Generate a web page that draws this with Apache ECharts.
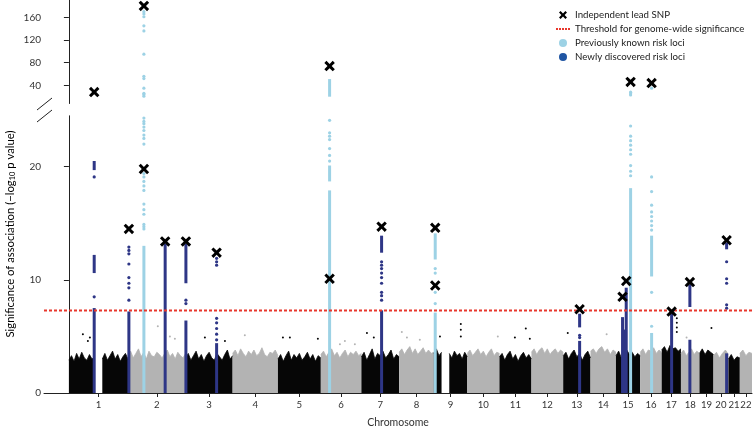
<!DOCTYPE html>
<html><head><meta charset="utf-8">
<script src="https://cdn.jsdelivr.net/npm/echarts@6/dist/echarts.min.js"></script>
<style>html,body{margin:0;padding:0;background:#fff}#c{width:756px;height:433px}</style>
</head><body><div id="c"></div>
<script>
// ---------- DATA ----------
const chrNames = ['1','2','3','4','5','6','7','8','9','10','11','12','13','14','15','16','17','18','19','20','21','22'];
const chrLengths = [249.25,243.2,198.0,191.15,180.9,171.1,159.1,146.4,141.2,135.5,135.0,133.9,115.2,107.3,102.5,90.4,81.2,78.1,59.1,63.0,48.1,51.3]; // Mb

// upper envelope of the bulk of non-significant SNPs, per chromosome (null = no SNPs, centromere gap)
const noiseHeights = [
  [2.9,3.3,2.8,3.5,3.0,3.6,3.1,2.9,3.4,3.0,3.2,null,null,3.0,3.5,2.9,3.3,3.7,3.0,3.4,2.8,3.2,3.5,3.0],
  [3.3,3.7,3.1,3.5,3.9,3.2,3.6,3.0,3.7,3.3,3.2,3.6,3.4,3.1,3.5,3.8,3.2,3.5,3.0,3.6,3.3,3.1,3.5],
  [3.1,3.5,2.9,3.3,3.7,3.0,3.4,2.8,3.3,3.6,3.1,2.9,3.5,3.2,2.9,3.4,3.8,3.0,3.3],
  [3.5,3.8,3.3,3.9,3.5,3.2,3.7,3.4,3.8,3.3,3.5,4.0,3.4,3.2,3.6,3.5,3.8,3.3],
  [3.0,3.4,2.8,3.3,3.7,2.9,3.4,3.1,3.5,2.9,3.2,3.6,3.0,3.4,2.8,3.3,3.1],
  [3.4,3.7,3.2,3.6,3.9,3.3,3.6,3.1,3.5,3.8,3.2,3.6,3.4,3.7,3.3,3.5],
  [3.2,3.6,2.9,3.4,3.9,3.0,3.5,3.3,3.7,3.1,3.4,3.8,3.0,3.4,3.2],
  [3.6,3.9,3.4,3.8,4.1,3.5,3.9,3.4,3.7,4.0,3.5,3.8,3.5,3.6],
  [3.5,3.9,3.3,3.6,null,null,3.5,3.1,3.7,3.3,3.5,3.0,3.6,3.2],
  [3.5,3.8,3.3,3.6,3.9,3.4,3.7,3.2,3.6,3.9,3.3,3.6,3.5],
  [3.2,3.5,2.9,3.4,3.7,3.0,3.4,2.8,3.3,3.6,3.1,3.4,3.0],
  [3.6,3.9,3.4,3.8,4.0,3.5,3.9,3.4,3.7,3.9,3.5,3.8,3.6],
  [3.3,3.6,3.0,3.5,3.8,3.2,3.5,2.9,3.4,3.7,3.1],
  [3.7,3.9,3.5,3.9,4.1,3.6,3.9,3.4,3.8,3.6],
  [3.3,3.7,3.1,3.5,3.8,3.4,3.6,3.2,3.5,3.3],
  [3.6,3.9,3.4,3.8,3.7,4.0,3.5,3.8,3.6],
  [3.8,4.1,3.6,4.2,3.9,4.0,3.7,3.9],
  [3.5,3.8,3.3,3.6,3.9,3.4,3.7,3.5],
  [3.5,3.9,3.4,3.8,3.6,3.4],
  [3.3,3.6,3.1,3.5,3.8,3.4],
  [3.0,3.4,2.9,3.2,3.1],
  [3.5,3.8,3.3,3.6,3.5]
];
// isolated non-significant SNPs above the bulk (genome position in Mb, -log10 p)
const outlierPos = [59,80,88.6,375,426,447,573.6,658,742,902.6,932,1050,1143,1164,1206,1257,1286,1404,1425.6,1480,1565,1653,1653,1653,1809,1881,1927,1944,2104,2268,2564,2564,2564,2564,2605,2710];
const outlierVal = [5.2,4.6,4.9,5.9,5.0,4.8,4.9,4.6,5.1,4.9,4.9,4.8,4.3,4.6,4.3,5.3,4.9,5.4,4.9,4.7,5.0,6.1,5.6,5.0,5.0,4.9,5.7,4.8,5.3,5.2,6.6,6.2,5.8,5.4,4.9,5.75];

// risk loci (genome position in Mb)
const lociPos   = [106.7,253,316.3,406,493.5,623,1099.5,1318.8,1545,2154,2335,2342,2350.5,2369,2457.6,2542,2619,2774];
const lociKnown = [false,false,true,false,false,false,true,false,true,false,false,false,false,true,true,false,false,false];
// dense runs of SNPs [from, to] in -log10 p (lower panel)
const lociRuns = [
  [[0,7.4],[10.6,12.1],[19.7,20.4]],
  [[0,7.1]],
  [[0,12.9]],
  [[0,13.1]],
  [[0,6.3],[9.7,13.1]],
  [[0,4.3]],
  [[0,17.8],[18.7,20.0]],
  [[0,7.2],[12.4,13.8]],
  [[0,7.0],[11.8,14.0]],
  [[0,4.5],[5.8,6.9]],
  [[0,6.6]],
  [[0,5.5]],
  [[0,9.2]],
  [[0,18.0]],
  [[0,5.2],[10.3,13.8]],
  [[0,6.9]],
  [[0,4.6],[7.6,9.5]],
  [[0,3.4],[12.7,13.2]]
];
// single SNPs (lower panel)
const lociDots = [
  [8.5,19.1],
  [8.2,9.3,9.7,10.2,11.4,12.3,12.6,12.9],
  [14.5,14.7,14.9,15.8,16.2,16.7,17.9,18.3,18.7,19.1,19.4,22.0,22.5,22.8,23.2,23.5,23.8,24.0,24.3],
  [],
  [7.9,8.2],
  [4.7,5.2,5.7,6.2,6.6,11.3,11.6,11.9],
  [20.5,21.0,21.6,22.4,22.7,23.0,24.1],
  [8.2,8.6,8.9,9.7,10.2,10.6,11.0,11.3,11.6],
  [7.9,8.9,10.6,11.0],
  [4.9,5.1],
  [],
  [],
  [],
  [19.2,19.6,20.1,21.1,21.5,21.9,22.3,22.7,23.6],
  [5.9,8.9,14.4,14.8,15.2,15.6,16.0,16.6,17.8,19.1],
  [],
  [],
  [7.5,7.8,9.7,10.1,11.6]
];
// upper (compressed) panel
const lociUpperRuns = [[],[],[],[],[],[],[[20,49]],[],[],[],[],[],[],[],[],[],[],[]];
const lociUpperDots = [[],[],[21,24,26,35,52,56,95,136,145,161,166,170],[],[],[],[],[],[],[],[],[],[],[23,25,28],[35],[],[],[]];

// independent lead SNPs
const leadPos = [106.7,253,316.3,316.3,406,493.5,623,1099.5,1099.5,1318.8,1545,1545,2154,2335,2350.5,2369,2457.6,2542,2619,2774];
const leadVal = [28.2,14.5,180,19.8,13.4,13.4,12.4,74,10.1,14.7,14.6,9.5,7.4,8.5,9.9,46,44,7.2,9.8,13.5];

const threshold = 7.3;
const lowerTicks = [0,10,20];
const upperTicks = [40,80,120,160];
const breakValue = 24.5; // top of lower panel

// ---------- STYLE ----------
const FONT = 'Lato';
const LB = '#9dd2e5', NAVY = '#2e3686', BLACK = '#060606', GREY = '#b3b3b3', RED = '#e8372c';
const XPATH = 'path://M2,0L5,3L8,0L10,2L7,5L10,8L8,10L5,7L2,10L0,8L3,5L0,2Z';
const DOTLINE = 'path://M0,0h2v2h-2ZM3,0h2v2h-2ZM6,0h2v2h-2ZM9,0h2v2h-2ZM12,0h2v2h-2Z';

// ---------- BUILD ----------
const chrStart = []; let acc = 0;
chrLengths.forEach(l => { chrStart.push(acc); acc += l; });
const chrCenters = chrLengths.map((l, i) => chrStart[i] + l / 2);

const XMIN = -105, XMAX = 2881;
const series = [];

noiseHeights.forEach((hs, i) => {
  const n = hs.length;
  const data = hs.map((h, j) => [chrStart[i] + j * chrLengths[i] / (n - 1), h]);
  const col = i % 2 === 0 ? BLACK : GREY;
  series.push({
    type: 'line', xAxisIndex: 0, yAxisIndex: 0, data, showSymbol: false, silent: true, z: 1,
    connectNulls: false,
    lineStyle: { color: col, width: 0.8 }, areaStyle: { color: col, opacity: 1 }
  });
});
series.push({
  type: 'scatter', xAxisIndex: 0, yAxisIndex: 0, silent: true, z: 1, symbolSize: 2,
  data: outlierPos.map((p, i) => {
    const ci = chrStart.findIndex((s, k) => p >= s && p < s + chrLengths[k]);
    return { value: [p, outlierVal[i]], itemStyle: { color: ci % 2 === 0 ? BLACK : GREY, opacity: 1 } };
  })
});

function dotSeries(name, known, grid, arr) {
  const data = [];
  lociPos.forEach((p, i) => { if (lociKnown[i] === known) arr[i].forEach(v => data.push([p, v])); });
  return { type: 'scatter', name, xAxisIndex: grid, yAxisIndex: grid, z: 3, silent: true,
    symbol: 'circle', symbolSize: 3.2, itemStyle: { color: known ? LB : NAVY, opacity: 1 }, data };
}
function runSeries(name, known, grid, arr) {
  const data = [];
  lociPos.forEach((p, i) => { if (lociKnown[i] === known) arr[i].forEach(r => data.push([p, r[0], r[1]])); });
  const color = known ? LB : NAVY;
  return { type: 'custom', name, xAxisIndex: grid, yAxisIndex: grid, z: 3, silent: true,
    encode: { x: 0, y: [1, 2] }, data, itemStyle: { color },
    renderItem: (params, api) => {
      const a = api.coord([api.value(0), api.value(1)]);
      const b = api.coord([api.value(0), api.value(2)]);
      return { type: 'rect', shape: { x: a[0] - 1.5, y: b[1] - 1.2, width: 3, height: a[1] - b[1] + 1.2 },
        style: { fill: color } };
    } };
}
const KN = 'Previously known risk loci', NW = 'Newly discovered risk loci', LD = 'Independent lead SNP', TH = 'Threshold for genome-wide significance';
series.push(dotSeries(KN, true, 0, lociDots));
series.push(dotSeries(NW, false, 0, lociDots));
series.push(dotSeries(KN, true, 1, lociUpperDots));
series.push(dotSeries(NW, false, 1, lociUpperDots));
series.push(runSeries(KN, true, 0, lociRuns));
series.push(runSeries(NW, false, 0, lociRuns));
series.push(runSeries(KN, true, 1, lociUpperRuns));
series.push(runSeries(NW, false, 1, lociUpperRuns));

series.push({ type: 'line', name: TH, xAxisIndex: 0, yAxisIndex: 0, z: 4, silent: true, clip: false,
  showSymbol: false, symbol: 'none', data: [[XMIN, threshold], [XMAX + 17, threshold]],
  lineStyle: { color: RED, width: 2, type: [3, 2] }, itemStyle: { color: RED } });

const leadLower = [], leadUpper = [];
leadPos.forEach((p, i) => (leadVal[i] > breakValue ? leadUpper : leadLower).push([p, leadVal[i]]));
[[0, leadLower], [1, leadUpper]].forEach(([g, d]) => series.push({
  type: 'scatter', name: LD, xAxisIndex: g, yAxisIndex: g, z: 5, silent: true,
  symbol: XPATH, symbolSize: 10.5, itemStyle: { color: '#000', opacity: 1 }, data: d }));

const axisLineStyle = { color: '#222', width: 1 };
const lblStyle = { fontFamily: FONT, fontSize: 10, color: '#333' };

const option = {
  animation: false,
  backgroundColor: '#fff',
  grid: [
    { left: 44, right: 4, top: 115.8, height: breakValue * 11.6 },
    { left: 44, right: 4, top: 0.3, height: 103.2 }
  ],
  xAxis: [
    { type: 'value', gridIndex: 0, min: XMIN, max: XMAX,
      name: 'Chromosome', nameLocation: 'middle', nameGap: 24,
      nameTextStyle: { fontFamily: FONT, fontSize: 10.5, color: '#333' },
      axisLine: { lineStyle: axisLineStyle }, splitLine: { show: false },
      axisTick: { customValues: chrCenters, length: 4, lineStyle: axisLineStyle },
      axisLabel: { customValues: chrCenters, margin: 7, hideOverlap: false, ...lblStyle, fontSize: 9.6,
        formatter: v => { let best = 0; chrCenters.forEach((c, i) => { if (Math.abs(c - v) < Math.abs(chrCenters[best] - v)) best = i; }); return chrNames[best]; } } },
    { type: 'value', gridIndex: 1, min: XMIN, max: XMAX, show: false }
  ],
  yAxis: [
    { type: 'value', gridIndex: 0, min: 0, max: breakValue,
      axisLine: { show: true, lineStyle: axisLineStyle }, splitLine: { show: false },
      axisTick: { show: true, customValues: lowerTicks, length: 5, lineStyle: axisLineStyle },
      axisLabel: { customValues: lowerTicks, margin: 3, ...lblStyle } },
    { type: 'value', gridIndex: 1, min: 8, max: 190,
      axisLine: { show: true, lineStyle: axisLineStyle }, splitLine: { show: false },
      axisTick: { show: true, customValues: upperTicks, length: 5, lineStyle: axisLineStyle },
      axisLabel: { customValues: upperTicks, margin: 3, ...lblStyle } }
  ],
  legend: {
    orient: 'vertical', left: 556, top: 8, padding: 0, itemWidth: 14, itemHeight: 8, itemGap: 0,
    selectedMode: false,
    textStyle: { fontFamily: FONT, fontSize: 9.7, color: '#222', lineHeight: 14 },
    data: [
      { name: LD, icon: XPATH, itemStyle: { color: '#000' } },
      { name: TH, icon: DOTLINE, itemStyle: { color: RED } },
      { name: KN, icon: 'circle', itemStyle: { color: LB } },
      { name: NW, icon: 'circle', itemStyle: { color: '#1f55a3' } }
    ]
  },
  graphic: [
    { type: 'line', shape: { x1: 37, y1: 110, x2: 52, y2: 98 }, style: { stroke: '#222', lineWidth: 1 } },
    { type: 'line', shape: { x1: 37, y1: 122, x2: 52, y2: 110 }, style: { stroke: '#222', lineWidth: 1 } },
    { type: 'text', x: 10, y: 234, rotation: Math.PI / 2,
      style: { text: '{a|Significance of association (\u2212log}{b|10}{a| p value)}',
        align: 'center', verticalAlign: 'middle',
        rich: { a: { fontFamily: FONT, fontSize: 11.3, color: '#333', lineHeight: 14 },
                b: { fontFamily: FONT, fontSize: 7.5, color: '#333', padding: [6, 0, 0, 0], lineHeight: 10 } } } }
  ],
  series
};
echarts.init(document.getElementById('c'), null, { renderer: 'canvas' }).setOption(option);
</script>
</body></html>
